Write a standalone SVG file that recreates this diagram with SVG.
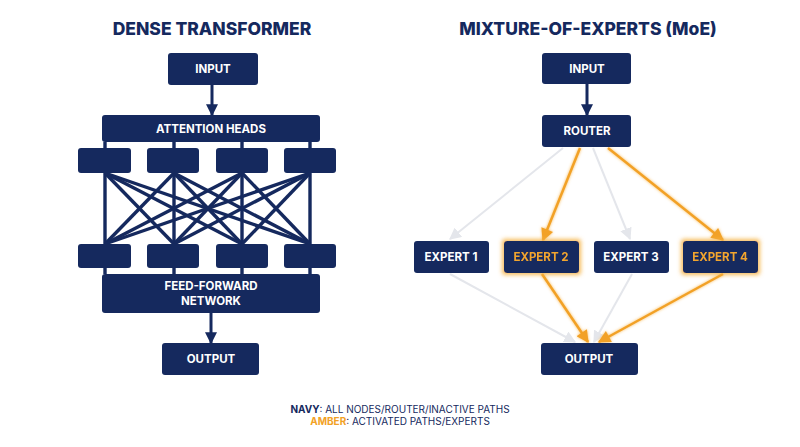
<svg xmlns="http://www.w3.org/2000/svg" width="800" height="447" viewBox="0 0 800 447">
<defs>
<style>
.box{fill:#15295e}
.t{font-family:Inter,"Open Sans","Liberation Sans",sans-serif;font-weight:700;fill:#fff;font-size:11.5px;text-anchor:middle}
.ttl{font-family:Inter,"Open Sans","Liberation Sans",sans-serif;font-weight:800;fill:#15295e;font-size:17.5px;text-anchor:middle}
.amt{fill:#f2a52e}
.nv{stroke:#15295e;stroke-width:3;fill:none}
.mesh{stroke:#15295e;stroke-width:3.4;fill:none}
.gr{stroke:#e4e6eb;stroke-width:2;fill:none}
.am{stroke:#f2a125;stroke-width:2.5;fill:none}
.lg{font-family:Inter,"Open Sans","Liberation Sans",sans-serif;font-size:10px;fill:#15295e;text-anchor:middle}
</style>
<marker id="mn" viewBox="0 0 10 10" refX="9" refY="5" markerWidth="4.5" markerHeight="4" orient="auto" markerUnits="strokeWidth"><path d="M0,0L10,5L0,10z" fill="#15295e"/></marker>
<marker id="mg" viewBox="0 0 10 10" refX="9" refY="5" markerWidth="6" markerHeight="6" orient="auto" markerUnits="strokeWidth"><path d="M0,0L10,5L0,10z" fill="#e4e6eb"/></marker>
<marker id="ma" viewBox="0 0 10 10" refX="9" refY="5" markerWidth="5.5" markerHeight="5" orient="auto" markerUnits="strokeWidth"><path d="M0,0L10,5L0,10z" fill="#f2a125"/></marker>
<filter id="glow" x="-20%" y="-20%" width="140%" height="140%"><feGaussianBlur in="SourceAlpha" stdDeviation="2"/><feFlood flood-color="#f7b54a" flood-opacity="0.9"/><feComposite operator="in" in2="SourceAlpha"/><feGaussianBlur stdDeviation="1.5"/><feMerge><feMergeNode/><feMergeNode in="SourceGraphic"/></feMerge></filter>
<filter id="bglow" x="-20%" y="-30%" width="140%" height="160%"><feMorphology in="SourceAlpha" operator="dilate" radius="1.5" result="d"/><feGaussianBlur in="d" stdDeviation="2" result="b"/><feFlood flood-color="#f5b03d" flood-opacity="0.85"/><feComposite operator="in" in2="b"/><feMerge><feMergeNode/><feMergeNode in="SourceGraphic"/></feMerge></filter>
</defs>
<rect width="800" height="447" fill="#fff"/>
<text class="ttl" x="212" y="35">DENSE TRANSFORMER</text>
<text class="ttl" x="588" y="35">MIXTURE-OF-EXPERTS (MoE)</text>

<g id="connectors">
<line class="nv" x1="212" y1="85" x2="212" y2="115" marker-end="url(#mn)"/>
<line class="nv" x1="211" y1="313" x2="211" y2="343" marker-end="url(#mn)"/>
<g class="mesh">
<line x1="105" y1="142" x2="105" y2="274"/><line x1="174" y1="142" x2="174" y2="274"/><line x1="242" y1="142" x2="242" y2="274"/><line x1="310" y1="142" x2="310" y2="274"/>
<line x1="105" y1="173" x2="174" y2="244"/><line x1="105" y1="173" x2="242" y2="244"/><line x1="105" y1="173" x2="310" y2="244"/>
<line x1="174" y1="173" x2="105" y2="244"/><line x1="174" y1="173" x2="242" y2="244"/><line x1="174" y1="173" x2="310" y2="244"/>
<line x1="242" y1="173" x2="105" y2="244"/><line x1="242" y1="173" x2="174" y2="244"/><line x1="242" y1="173" x2="310" y2="244"/>
<line x1="310" y1="173" x2="105" y2="244"/><line x1="310" y1="173" x2="174" y2="244"/><line x1="310" y1="173" x2="242" y2="244"/>
</g>
<line class="nv" x1="587" y1="84" x2="587" y2="115" marker-end="url(#mn)"/>
<line class="gr" x1="563" y1="148" x2="450" y2="239" marker-end="url(#mg)"/>
<line class="gr" x1="593" y1="148" x2="630" y2="239" marker-end="url(#mg)"/>
<line class="gr" x1="450" y1="274" x2="575" y2="342" marker-end="url(#mg)"/>
<line class="gr" x1="632" y1="274" x2="594" y2="342" marker-end="url(#mg)"/>
<g filter="url(#glow)">
<line class="am" x1="580" y1="148" x2="543" y2="240" marker-end="url(#ma)"/>
<line class="am" x1="608" y1="148" x2="723" y2="240" marker-end="url(#ma)"/>
<line class="am" x1="542" y1="274" x2="588" y2="342" marker-end="url(#ma)"/>
<line class="am" x1="723" y1="274" x2="599" y2="342" marker-end="url(#ma)"/>
</g>
</g>

<g id="d-input"><rect class="box" x="168" y="53" width="90" height="32" rx="3"/><text class="t" x="213" y="73">INPUT</text></g>
<g id="d-attn"><rect class="box" x="102" y="115" width="218" height="27" rx="3"/><text class="t" x="211" y="133">ATTENTION HEADS</text></g>
<g id="d-h1"><rect class="box" x="78" y="148" width="53" height="25" rx="3"/></g>
<g id="d-h2"><rect class="box" x="147" y="148" width="52" height="25" rx="3"/></g>
<g id="d-h3"><rect class="box" x="216" y="148" width="52" height="25" rx="3"/></g>
<g id="d-h4"><rect class="box" x="284" y="148" width="52" height="25" rx="3"/></g>
<g id="d-f1"><rect class="box" x="78" y="244" width="53" height="24" rx="3"/></g>
<g id="d-f2"><rect class="box" x="147" y="244" width="52" height="24" rx="3"/></g>
<g id="d-f3"><rect class="box" x="216" y="244" width="52" height="24" rx="3"/></g>
<g id="d-f4"><rect class="box" x="284" y="244" width="52" height="24" rx="3"/></g>
<g id="d-ffn"><rect class="box" x="102" y="274" width="218" height="39" rx="3"/><text class="t" x="211" y="290">FEED-FORWARD</text><text class="t" x="211" y="305">NETWORK</text></g>
<g id="d-output"><rect class="box" x="162" y="343" width="97" height="32" rx="3"/><text class="t" x="211" y="363">OUTPUT</text></g>

<g id="m-input"><rect class="box" x="542" y="53" width="89" height="31" rx="3"/><text class="t" x="587" y="73">INPUT</text></g>
<g id="m-router"><rect class="box" x="542" y="115" width="89" height="32" rx="3"/><text class="t" x="587" y="135">ROUTER</text></g>
<g id="m-e1"><rect class="box" x="414" y="241" width="75" height="32" rx="3"/><text class="t" x="451" y="261">EXPERT 1</text></g>
<g id="m-e2" filter="url(#bglow)"><rect class="box" x="504" y="241" width="75" height="32" rx="3"/><text class="t amt" x="541" y="261">EXPERT 2</text></g>
<g id="m-e3"><rect class="box" x="594" y="241" width="75" height="32" rx="3"/><text class="t" x="631" y="261">EXPERT 3</text></g>
<g id="m-e4" filter="url(#bglow)"><rect class="box" x="683" y="241" width="75" height="32" rx="3"/><text class="t amt" x="720" y="261">EXPERT 4</text></g>
<g id="m-output"><rect class="box" x="541" y="343" width="97" height="32" rx="3"/><text class="t" x="589" y="363">OUTPUT</text></g>

<g id="legend">
<text class="lg" x="400" y="413"><tspan font-weight="700">NAVY</tspan>: ALL NODES/ROUTER/INACTIVE PATHS</text>
<text class="lg" x="400" y="425"><tspan font-weight="700" fill="#f2a125">AMBER</tspan>: ACTIVATED PATHS/EXPERTS</text>
</g>
</svg>
